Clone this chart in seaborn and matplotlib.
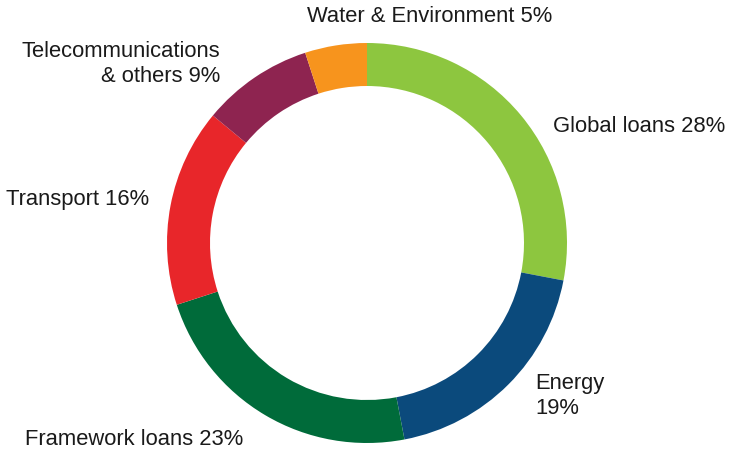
import matplotlib.pyplot as plt
import seaborn as sns

sectors = ['Global loans', 'Energy', 'Framework loans', 'Transport',
           'Telecommunications & others', 'Water & Environment']
shares = [28, 19, 23, 16, 9, 5]
colors = ['#8DC63F', '#0B4A7C', '#006B3A', '#E8262A', '#8E2450', '#F7941D']

sns.set_theme(style='white')
plt.rcParams['font.family'] = ['Liberation Sans', 'DejaVu Sans']

W, H = 729, 452
cx, cy, R = 367, 244, 200

fig = plt.figure(figsize=(W / 100, H / 100), dpi=100)
ax = fig.add_axes([0, 0, 1, 1])
ax.pie(shares, colors=colors, startangle=90, counterclock=False,
       radius=1, wedgeprops=dict(width=0.215, linewidth=0))
ax.set_xlim(-cx / R, (W - cx) / R)
ax.set_ylim(-(H - cy) / R, cy / R)
ax.set_aspect('equal')
ax.axis('off')


def px(x, y):
    return (x - cx) / R, (cy - y) / R


fs = 15.8
labels = [
    ('Water & Environment 5%', 307, 17, 'left'),
    ('Telecommunications\n& others 9%', 220, 64, 'right'),
    ('Global loans 28%', 553, 127, 'left'),
    ('Transport 16%', 6, 200, 'left'),
    ('Energy\n19%', 535, 396, 'left'),
    ('Framework loans 23%', 25, 440, 'left'),
]
for txt, x, y, ha in labels:
    ax.text(*px(x, y), txt, ha=ha, va='center', fontsize=fs,
            color='#1a1a1a', multialignment=ha, linespacing=1.2)

fig.savefig('out.png', dpi=100)
